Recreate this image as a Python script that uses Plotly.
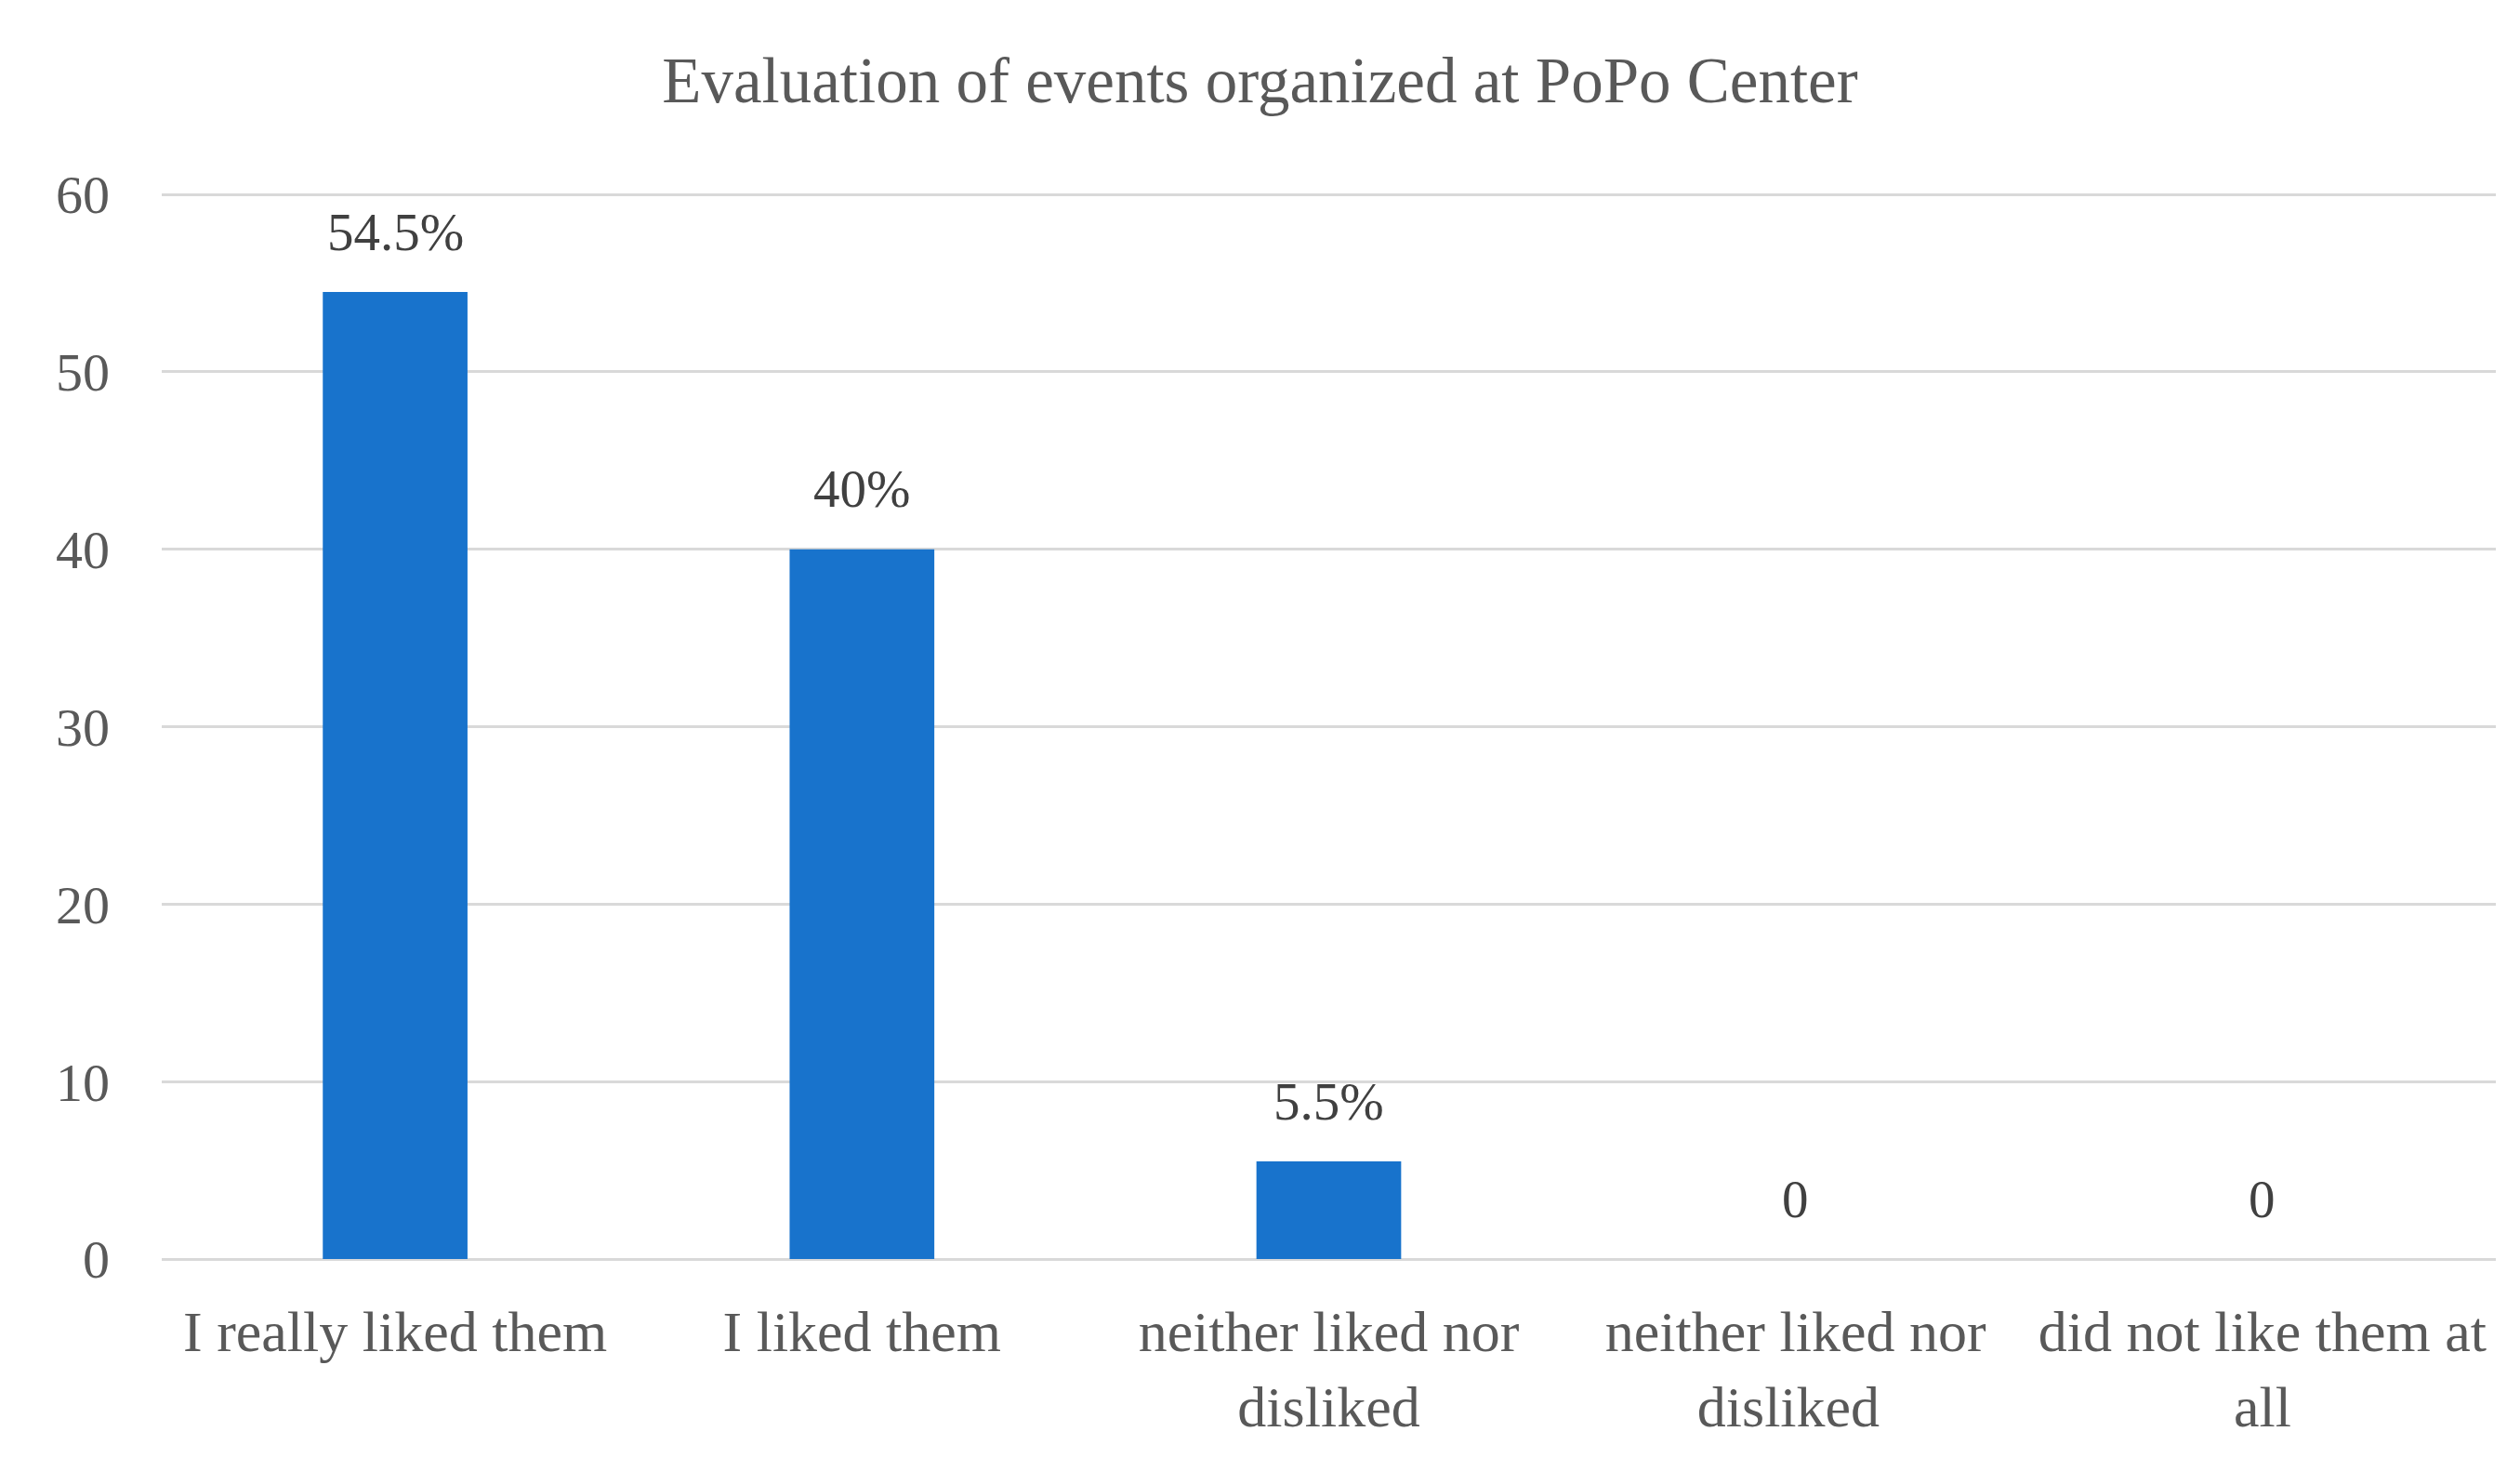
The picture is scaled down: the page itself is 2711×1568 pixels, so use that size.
import plotly.graph_objects as go

categories = ["I really liked them", "I liked them", "neither liked nor<br>disliked",
              "neither liked nor<br>disliked ", "did not like them at<br>all"]
values = [54.5, 40, 5.5, 0, 0]
value_labels = ["54.5%", "40%", "5.5%", "0", "0"]
y_ticks = [0, 10, 20, 30, 40, 50, 60]

W, H = 2711, 1568
FONT = "Liberation Serif"

fig = go.Figure()
fig.add_trace(go.Bar(
    x=categories, y=values,
    marker=dict(color="#1873CC", line=dict(width=0)),
    hoverinfo="skip",
))

for c, v, t in zip(categories, values, value_labels):
    fig.add_annotation(x=c, y=v, text=t, showarrow=False,
                       yanchor="middle", xanchor="center", yshift=65,
                       font=dict(family=FONT, size=57, color="#404040"))

fig.update_layout(
    width=W, height=H,
    margin=dict(l=174, r=26, t=208, b=214),
    paper_bgcolor="white", plot_bgcolor="white",
    bargap=0.69,
    showlegend=False,
    title=dict(text="Evaluation of events organized at PoPo Center",
               x=0.5, xanchor="center", y=1 - 86 / H, yanchor="middle",
               font=dict(family=FONT, size=69, color="#595959")),
)
fig.update_xaxes(
    showgrid=False, showline=False, zeroline=False, ticks="",
    tickfont=dict(family=FONT, size=62, color="#595959"),
    ticklabelstandoff=36, automargin=False,
)
fig.update_yaxes(
    range=[0, 60.06], tickvals=y_ticks,
    showgrid=True, gridcolor="#D9D9D9", gridwidth=3,
    zeroline=True, zerolinecolor="#D9D9D9", zerolinewidth=3,
    showline=False, ticks="",
    tickfont=dict(family=FONT, size=58, color="#595959"),
    ticklabelstandoff=55, automargin=False,
)

fig.write_html("out.html", config={"displayModeBar": False},
               post_script="document.body.style.margin='0';")
